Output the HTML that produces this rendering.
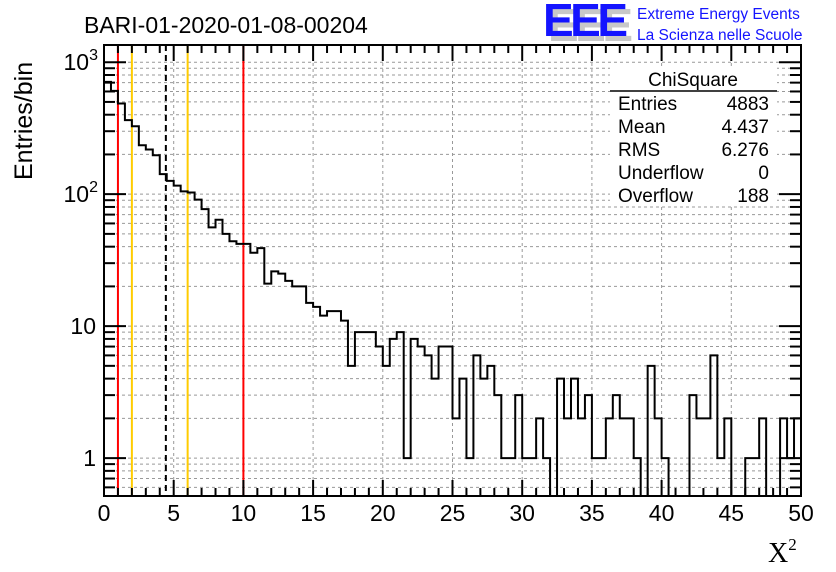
<!DOCTYPE html>
<html><head><meta charset="utf-8"><style>
html,body{margin:0;padding:0;background:#fff;}
svg{display:block;font-family:"Liberation Sans",sans-serif;}
</style></head><body>
<svg id="chart" width="836" height="572" viewBox="0 0 836 572" xmlns="http://www.w3.org/2000/svg">
<rect width="836" height="572" fill="#fff"/>
<g id="grid"></g>
<g id="vlines"></g>
<path id="hist" fill="none" stroke="#000" stroke-width="2"/>
<g id="axes"></g>
<text x="84" y="33" font-size="23">BARI-01-2020-01-08-00204</text>
<g>
<text x="548" y="41" font-size="46" font-weight="bold" fill="#c8c8c8" letter-spacing="-1" textLength="84">EEE</text>
<text x="543" y="36" font-size="46" font-weight="bold" fill="#1414ff" letter-spacing="-1" textLength="84">EEE</text>
<text x="637" y="19" font-size="15.5" fill="#1414ff">Extreme Energy Events</text>
<text x="637" y="40" font-size="15.5" fill="#1414ff">La Scienza nelle Scuole</text>
</g>
<g font-size="19">
<rect x="610" y="66" width="167" height="140" fill="#fff"/>
<text x="693" y="86" text-anchor="middle">ChiSquare</text>
<line x1="610" y1="91" x2="777" y2="91" stroke="#000" stroke-width="1.5"/>
<text x="618" y="110">Entries</text><text x="769" y="110" text-anchor="end">4883</text>
<text x="618" y="133">Mean</text><text x="769" y="133" text-anchor="end">4.437</text>
<text x="618" y="156">RMS</text><text x="769" y="156" text-anchor="end">6.276</text>
<text x="618" y="179">Underflow</text><text x="769" y="179" text-anchor="end">0</text>
<text x="618" y="202">Overflow</text><text x="769" y="202" text-anchor="end">188</text>
</g>
<text font-size="25" transform="translate(32,180) rotate(-90)">Entries/bin</text>
<text font-family="Liberation Serif,serif" font-size="28" x="768" y="562">X<tspan font-size="17" dy="-12">2</tspan></text>
</svg>
<script>
const counts = [709,606,486,364,327,235,218,197,142,126,116,105,103,91,77,56,64,50,44,42,42,36,39,21,26,25,22,20,20,15,14,12,13,13,11,5,9,9,9,7,5,8,9,1,8,7,6,4,7,7,2,4,1,6,4,5,3,1,1,3,1,1,2,1,0,4,2,4,2,3,1,1,2,3,2,2,1,0,5,2,1,0,0,0,3,2,2,6,1,2,0,0,1,1,2,0,0,2,1,2];
const xTicks = [0,5,10,15,20,25,30,35,40,45,50];
const yTicks = [1,10,100,1000];
const yTickLabels = ["1","10","10²","10³"];
const refRed = [1,10];
const refOrange = [2,6];
const meanValue = 4.437;
const binWidth = 0.5;

const L=104,R=801,T=45,B=496,YMIN=0.516,YMAX=1350;
const NS="http://www.w3.org/2000/svg";
function X(v){return L+(v-0)/(50-0)*(R-L);}
function Y(v){if(v<=YMIN)return B;return B-(Math.log10(v)-Math.log10(YMIN))/(Math.log10(YMAX)-Math.log10(YMIN))*(B-T);}
function mk(tag,attrs,parent){const e=document.createElementNS(NS,tag);for(const k in attrs)e.setAttribute(k,attrs[k]);parent.appendChild(e);return e;}

const grid=document.getElementById('grid');
for(const t of xTicks){if(t===0||t===50)continue;
 const l=mk('line',{x1:X(t),x2:X(t),y1:T,y2:B,stroke:'#999','stroke-dasharray':'3,3','stroke-width':1},grid);
 
 }
for(let d=0.1;d<=1000;d*=10){for(let k=1;k<=9;k++){const v=Math.round(d*k*1000)/1000;if(v<YMIN||v>YMAX)continue;
 const l=mk('line',{x1:L,x2:R,y1:Y(v),y2:Y(v),stroke:'#999','stroke-dasharray':'3,3','stroke-width':1},grid);
 
 }}

const vl=document.getElementById('vlines');
for(const v of refRed){const l=mk('line',{x1:X(v),x2:X(v),y1:T,y2:B,stroke:'#ff0000','stroke-width':2},vl);
 
 }
for(const v of refOrange){const l=mk('line',{x1:X(v),x2:X(v),y1:T,y2:B,stroke:'#ffcc00','stroke-width':2},vl);
 
 }
{const l=mk('line',{x1:X(meanValue),x2:X(meanValue),y1:T,y2:B,stroke:'#000','stroke-width':2,'stroke-dasharray':'6,4'},vl);
 
 }

let d='M'+X(0)+','+B;
counts.forEach((c,i)=>{const y=Y(c);d+=' L'+X(i*binWidth)+','+y+' L'+X((i+1)*binWidth)+','+y;});
d+=' L'+X(counts.length*binWidth)+','+B;
document.getElementById('hist').setAttribute('d',d);

const ax=document.getElementById('axes');
mk('rect',{x:L,y:T,width:R-L,height:B-T,fill:'none',stroke:'#000','stroke-width':2},ax);
for(let v=0;v<=50;v+=1){const maj=v%5===0;const len=maj?16:8;
 mk('line',{x1:X(v),x2:X(v),y1:B,y2:B-len,stroke:'#000','stroke-width':2},ax);
 mk('line',{x1:X(v),x2:X(v),y1:T,y2:T+len,stroke:'#000','stroke-width':2},ax);}
xTicks.forEach(t=>{const e=mk('text',{x:X(t),y:B+25,'font-size':23,'text-anchor':'middle'},ax);e.textContent=String(t);
 
 });
for(let dd=0.1;dd<=1000;dd*=10){for(let k=1;k<=9;k++){const v=Math.round(dd*k*1000)/1000;if(v<YMIN||v>YMAX)continue;const len=k===1?22:11;
 mk('line',{x1:L,x2:L+len,y1:Y(v),y2:Y(v),stroke:'#000','stroke-width':2},ax);
 mk('line',{x1:R,x2:R-len,y1:Y(v),y2:Y(v),stroke:'#000','stroke-width':2},ax);}}
yTicks.forEach((t,i)=>{const e=mk('text',{x:96,y:Y(t)+8,'font-size':23,'text-anchor':'end'},ax);
 const lab=yTickLabels[i];
 if(lab.length===3){e.textContent='10';const s=mk('tspan',{'font-size':16,dy:-10},e);s.textContent=lab==='10²'?'2':'3';e.setAttribute('x',98);}
 else e.textContent=lab;
 
 });
</script>
</body></html>
